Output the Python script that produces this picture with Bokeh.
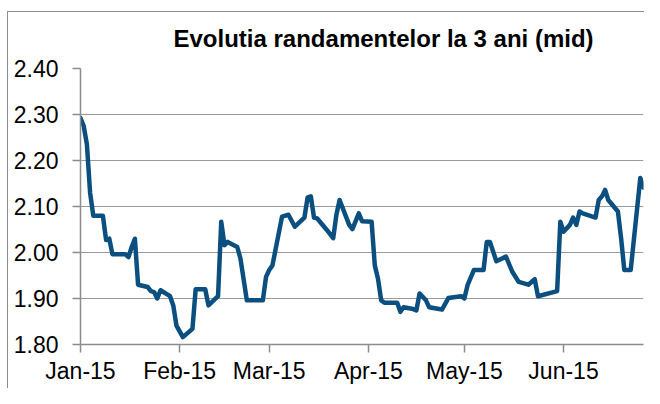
import pandas as pd
from bokeh.plotting import figure
from bokeh.models import FixedTicker, PrintfTickFormatter, DatetimeTickFormatter, Range1d
from bokeh.embed import file_html
from bokeh.resources import INLINE

title_text = "Evolutia randamentelor la 3 ani (mid)"

dates = [
    "2015-01-01", "2015-01-02", "2015-01-03", "2015-01-04", "2015-01-05", "2015-01-08",
    "2015-01-09", "2015-01-10", "2015-01-11", "2015-01-15", "2015-01-16", "2015-01-17",
    "2015-01-18", "2015-01-19", "2015-01-22", "2015-01-23", "2015-01-24", "2015-01-25",
    "2015-01-26", "2015-01-29", "2015-01-30", "2015-01-31", "2015-02-02", "2015-02-03",
    "2015-02-05", "2015-02-06", "2015-02-09", "2015-02-10", "2015-02-13", "2015-02-14",
    "2015-02-15", "2015-02-16", "2015-02-19", "2015-02-20", "2015-02-22", "2015-02-27",
    "2015-02-28", "2015-03-01", "2015-03-02", "2015-03-05", "2015-03-07", "2015-03-09",
    "2015-03-12", "2015-03-13", "2015-03-14", "2015-03-15", "2015-03-16", "2015-03-19",
    "2015-03-21", "2015-03-22", "2015-03-23", "2015-03-25", "2015-03-26", "2015-03-27",
    "2015-03-29", "2015-03-30", "2015-04-02", "2015-04-03", "2015-04-04", "2015-04-05",
    "2015-04-06", "2015-04-10", "2015-04-11", "2015-04-12", "2015-04-15", "2015-04-16",
    "2015-04-17", "2015-04-19", "2015-04-20", "2015-04-24", "2015-04-26", "2015-04-30",
    "2015-05-01", "2015-05-02", "2015-05-04", "2015-05-07", "2015-05-08", "2015-05-09",
    "2015-05-11", "2015-05-14", "2015-05-16", "2015-05-18", "2015-05-21", "2015-05-23",
    "2015-05-24", "2015-05-30", "2015-05-31", "2015-06-01", "2015-06-03", "2015-06-04",
    "2015-06-05", "2015-06-06", "2015-06-07", "2015-06-11", "2015-06-12", "2015-06-13",
    "2015-06-14", "2015-06-15", "2015-06-18", "2015-06-19", "2015-06-20", "2015-06-22",
    "2015-06-25", "2015-06-26",
]

yields = [
    2.292, 2.275, 2.235, 2.130, 2.080, 2.080,
    2.027, 2.030, 1.996, 1.996, 1.990, 2.012,
    2.030, 1.930, 1.925, 1.916, 1.914, 1.900,
    1.918, 1.905, 1.885, 1.841, 1.816, 1.822,
    1.834, 1.920, 1.920, 1.885, 1.905, 2.067,
    2.016, 2.023, 2.012, 1.987, 1.896, 1.896,
    1.947, 1.962, 1.972, 2.078, 2.082, 2.056,
    2.076, 2.120, 2.122, 2.076, 2.074, 2.049,
    2.031, 2.082, 2.114, 2.078, 2.060, 2.051,
    2.085, 2.068, 2.067, 1.972, 1.943, 1.896,
    1.891, 1.891, 1.871, 1.881, 1.877, 1.874,
    1.911, 1.896, 1.881, 1.876, 1.901, 1.905,
    1.900, 1.929, 1.962, 1.962, 2.023, 2.023,
    1.981, 1.991, 1.958, 1.936, 1.930, 1.942,
    1.905, 1.916, 2.067, 2.045, 2.060, 2.076,
    2.060, 2.089, 2.085, 2.076, 2.114, 2.122,
    2.136, 2.114, 2.089, 2.031, 1.962, 1.962,
    2.162, 2.141,
]

y_ticks = [1.80, 1.90, 2.00, 2.10, 2.20, 2.30, 2.40]
x_ticks = ["2015-01-01", "2015-02-01", "2015-03-01", "2015-04-01", "2015-05-01", "2015-06-01"]

x = pd.to_datetime(dates)

def ms(s):
    return pd.Timestamp(s).value / 1e6

p = figure(width=644, height=388, x_axis_type="datetime",
           output_backend="svg", toolbar_location=None,
           title=title_text,
           min_border_left=80, min_border_right=1, min_border_top=68, min_border_bottom=44)
p.x_range = Range1d(ms(dates[0]), ms(dates[-1]))
p.y_range = Range1d(y_ticks[0], y_ticks[-1])
p.outline_line_color = None
p.background_fill_color = "white"
p.border_fill_color = None
p.styles = {
    "background-color": "white",
    "background-image": "linear-gradient(#8c8c8c, #8c8c8c), linear-gradient(#8c8c8c, #8c8c8c)",
    "background-size": "1px 100%, 100% 1px",
    "background-position": "7px 11px, 7px 11px",
    "background-repeat": "no-repeat",
}

p.title.text_font = "Liberation Sans"
p.title.text_font_style = "bold"
p.title.text_font_size = "24px"
p.title.text_color = "black"
p.title.align = "left"
p.title.offset = 93
p.title.vertical_align = "bottom"
p.title.standoff = 34
p.title.text_line_height = 1.5

p.line(x, yields, line_width=4.5, line_color="#0b4f80", line_join="round", line_cap="round")

gray = "#8c8c8c"
p.yaxis.ticker = FixedTicker(ticks=y_ticks)
p.yaxis.formatter = PrintfTickFormatter(format="%.2f")
p.xaxis.ticker = FixedTicker(ticks=[ms(t) for t in x_ticks])
p.xaxis.formatter = DatetimeTickFormatter(days="%b-%y", months="%b-%y", years="%b-%y")

for ax in (p.xaxis, p.yaxis):
    ax.axis_line_color = gray
    ax.axis_line_width = 1.5
    ax.major_tick_line_color = gray
    ax.major_tick_line_width = 1.5
    ax.major_tick_out = 8
    ax.major_tick_in = 0
    ax.minor_tick_line_color = None
    ax.major_label_text_font = "Liberation Sans"
    ax.major_label_text_font_size = "23px"
    ax.major_label_text_color = "black"

p.yaxis.major_label_standoff = 14
p.xaxis.major_label_standoff = 5

p.xgrid.grid_line_color = None
p.ygrid.grid_line_color = "#9a9a9a"
p.ygrid.grid_line_width = 1.2

open("out.html", "w").write(file_html(p, INLINE))
